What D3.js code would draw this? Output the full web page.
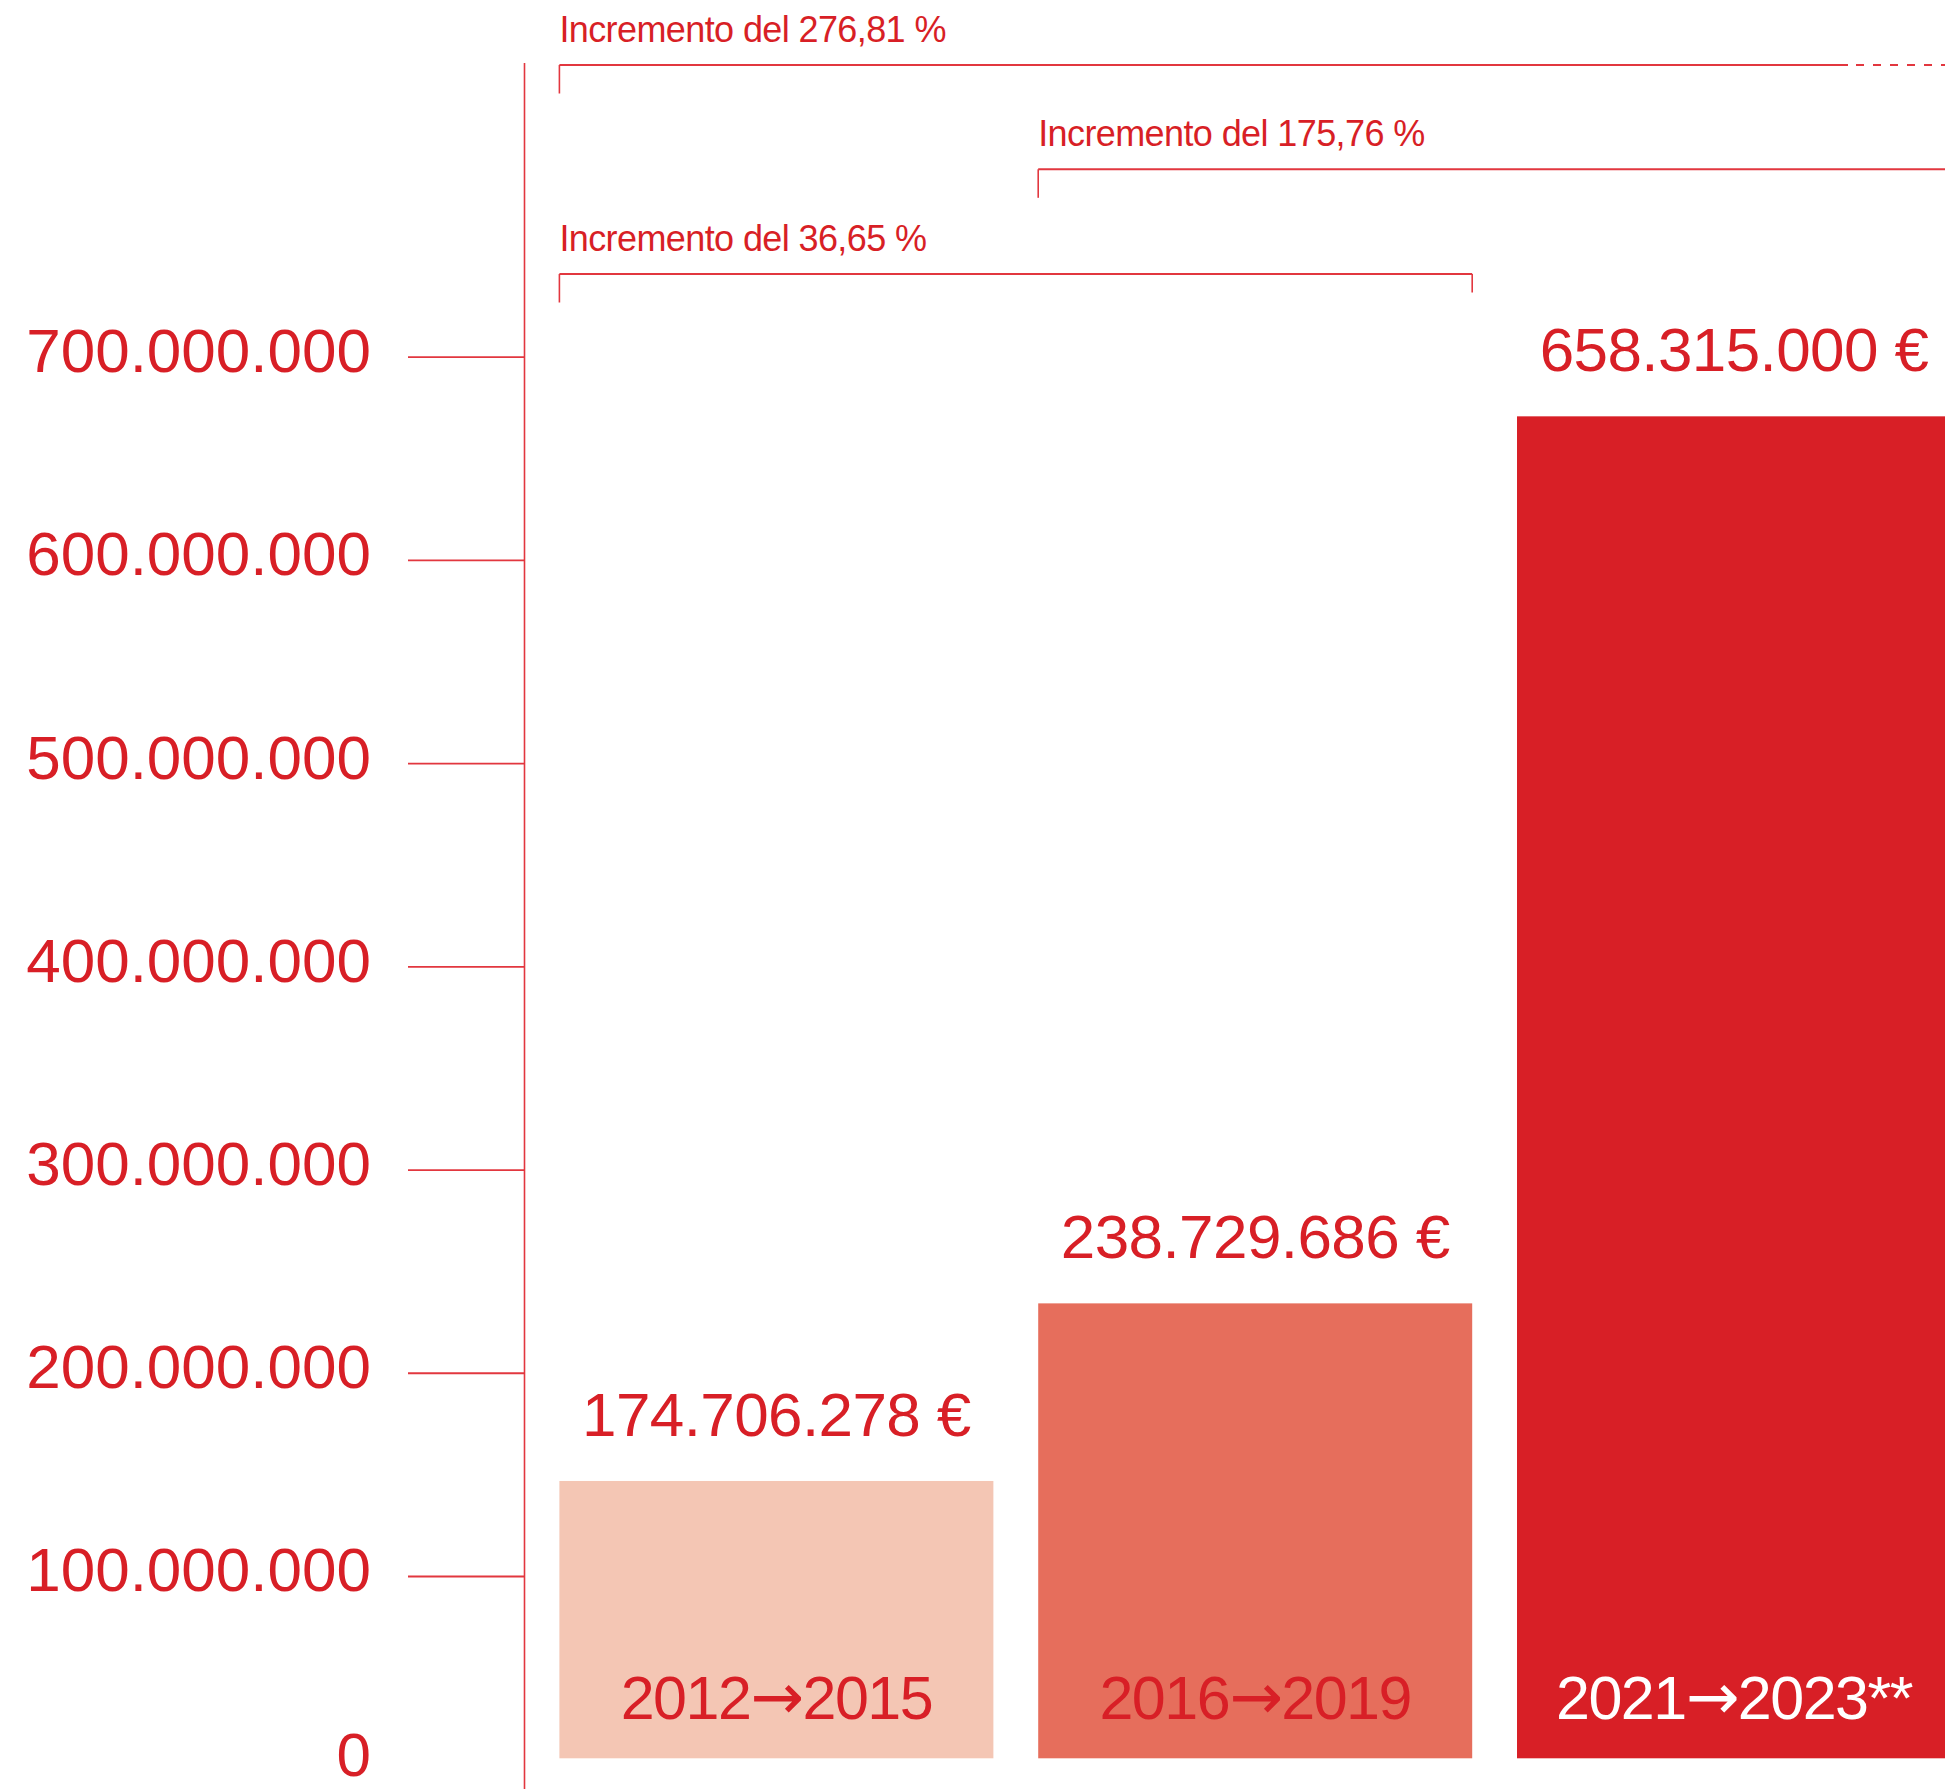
<!DOCTYPE html>
<html>
<head>
<meta charset="utf-8">
<script src="https://cdn.jsdelivr.net/npm/d3@7.9.0/dist/d3.min.js"></script>
<style>
  html, body { margin: 0; padding: 0; background: #fff; overflow: hidden; }
  svg { display: block; font-family: "Liberation Sans", Arial, sans-serif; }
</style>
</head>
<body>
<svg id="chart" width="1945" height="1789"></svg>
<script>
// data
const categories = ['2012→2015', '2016→2019', '2021→2023**'];
const amountLabels = ['174.706.278 €', '238.729.686 €', '658.315.000 €'];
// bar heights as drawn, read against the axis
const barValues = [147.0e6, 234.4e6, 670.9e6];
const tickValues = [0, 100e6, 200e6, 300e6, 400e6, 500e6, 600e6, 700e6];
const incrementLabels = ['Incremento del 276,81 %', 'Incremento del 175,76 %', 'Incremento del 36,65 %'];
const incrementFrom = [0, 1, 0];
const incrementTo = [null, null, 1]; // null = runs off the right edge

const barColors = ['#f4c6b4', '#e66e5c', '#d81f26'];
const yearColors = ['#d81f26', '#d81f26', '#ffffff'];
const red = '#d81f26';
const lineRed = '#e2373f';

const W = 1945, H = 1789;
const svg = d3.select('#chart');

const y = d3.scaleLinear().domain([0, 700e6]).range([1779.7, 357.2]);
const x = d3.scaleBand().domain(categories)
  .range([559.4, 1951]).paddingInner(0.0936).paddingOuter(0);
const axisX = 524.5;
const barBottom = y(0) - 21.4;

const fmt = d3.formatLocale({ decimal: ',', thousands: '.', grouping: [3], currency: ['', ' €'] }).format(',d');

// axis line
svg.append('line')
  .attr('x1', axisX).attr('x2', axisX).attr('y1', 63).attr('y2', H)
  .attr('stroke', lineRed).attr('stroke-width', 1.6);

// ticks + labels
const ticks = svg.append('g');
ticks.selectAll('line').data(tickValues.filter(d => d > 0)).join('line')
  .attr('x1', 408).attr('x2', axisX)
  .attr('y1', d => y(d)).attr('y2', d => y(d))
  .attr('stroke', lineRed).attr('stroke-width', 1.8);
ticks.selectAll('text').data(tickValues).join('text')
  .attr('x', 371)
  .attr('y', d => Math.min(y(d) + 15, 1776))
  .attr('text-anchor', 'end')
  .attr('fill', red)
  .attr('font-size', 62)
  .text(d => fmt(d));

// bars
svg.append('g').selectAll('rect').data(barValues).join('rect')
  .attr('x', (d, i) => x(categories[i]))
  .attr('width', x.bandwidth())
  .attr('y', d => y(d))
  .attr('height', d => barBottom - y(d))
  .attr('fill', (d, i) => barColors[i]);

// amount labels above bars
svg.append('g').selectAll('text').data(barValues).join('text')
  .attr('x', (d, i) => x(categories[i]) + x.bandwidth() / 2)
  .attr('y', d => y(d) - 45)
  .attr('text-anchor', 'middle')
  .attr('fill', red)
  .attr('font-size', 62)
  .attr('letter-spacing', -0.6)
  .text((d, i) => amountLabels[i]);

// period labels inside bars (arrow from DejaVu, it has a full-size glyph)
const periods = svg.append('g').selectAll('text').data(categories).join('text')
  .attr('x', d => x(d) + x.bandwidth() / 2)
  .attr('y', barBottom - 39.5)
  .attr('text-anchor', 'middle')
  .attr('fill', (d, i) => yearColors[i])
  .attr('font-size', 61)
  .attr('letter-spacing', -1.5);
periods.each(function (d) {
  const [a, b] = d.split('→');
  const t = d3.select(this);
  t.append('tspan').text(a);
  t.append('tspan').attr('font-family', '"DejaVu Sans"').attr('font-size', 64).text('→');
  t.append('tspan').text(b);
});

// increment brackets
const rowY = [65, 169.3, 274];
incrementLabels.forEach((label, i) => {
  const g = svg.append('g');
  const x0 = x(categories[incrementFrom[i]]);
  const x1 = incrementTo[i] === null ? W : x(categories[incrementTo[i]]) + x.bandwidth();
  const ly = rowY[i];
  g.append('text')
    .attr('x', x0).attr('y', ly - 23)
    .attr('fill', red).attr('font-size', 36).attr('letter-spacing', -0.6)
    .text(label);
  g.append('line').attr('x1', x0).attr('x2', x0).attr('y1', ly).attr('y2', ly + 28.5)
    .attr('stroke', lineRed).attr('stroke-width', 1.6);
  if (i === 0) {
    const xs = 1848;
    g.append('line').attr('x1', x0).attr('x2', xs).attr('y1', ly).attr('y2', ly)
      .attr('stroke', lineRed).attr('stroke-width', 2);
    g.append('line').attr('x1', xs + 8).attr('x2', x1).attr('y1', ly).attr('y2', ly)
      .attr('stroke', lineRed).attr('stroke-width', 2).attr('stroke-dasharray', '8,9');
  } else {
    g.append('line').attr('x1', x0).attr('x2', x1).attr('y1', ly).attr('y2', ly)
      .attr('stroke', lineRed).attr('stroke-width', 2);
  }
  if (incrementTo[i] !== null) {
    g.append('line').attr('x1', x1).attr('x2', x1).attr('y1', ly).attr('y2', ly + 18.5)
      .attr('stroke', lineRed).attr('stroke-width', 1.6);
  }
});
</script>
</body>
</html>
